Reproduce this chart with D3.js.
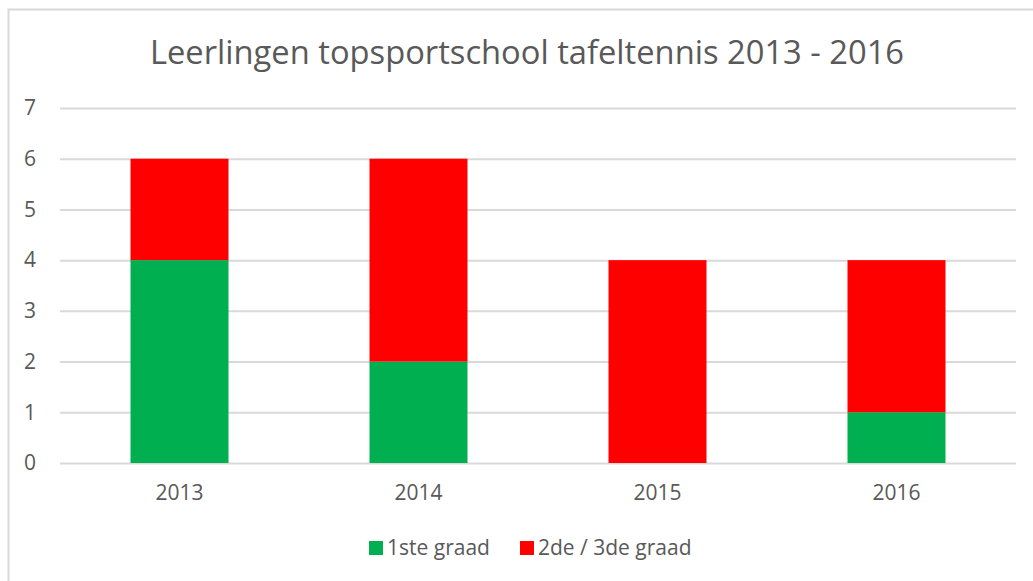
<!DOCTYPE html>
<html>
<head>
<meta charset="utf-8">
<script src="https://cdn.jsdelivr.net/npm/d3@7"></script>
<style>
  body { margin: 0; background: #fff; }
  text { font-family: "Open Sans", "Noto Sans", sans-serif; fill: #595959; }
</style>
</head>
<body>
<div id="chart"></div>
<script>
const years = ["2013", "2014", "2015", "2016"]
const eersteGraad = [4, 2, 0, 1]
const tweedeDerdeGraad = [2, 4, 4, 3]
const seriesNames = ["1ste graad", "2de / 3de graad"]
const seriesColors = ["#00b050", "#ff0000"]
const yTicks = [0, 1, 2, 3, 4, 5, 6, 7]

const W = 1033, H = 581
const margin = {top: 108, right: 17, bottom: 118, left: 60}
const width = W - margin.left - margin.right,
      height = H - margin.top - margin.bottom

const rows = years.map((y, i) => ({year: y, s0: eersteGraad[i], s1: tweedeDerdeGraad[i]}))
const stacked = d3.stack().keys(["s0", "s1"])(rows)

const svg = d3.select("#chart").append("svg")
  .attr("width", W)
  .attr("height", H)

// chart frame (only left/top visible in the crop)
svg.append("rect")
  .attr("x", 8.5).attr("y", 9.5)
  .attr("width", W + 20).attr("height", H + 20)
  .attr("fill", "none")
  .attr("stroke", "#d9d9d9")
  .attr("stroke-width", 2)

svg.append("text")
  .attr("x", 527)
  .attr("y", 64)
  .attr("text-anchor", "middle")
  .style("font-size", "32.7px")
  .text("Leerlingen topsportschool tafeltennis 2013 - 2016")

const g = svg.append("g")
  .attr("transform", "translate(" + margin.left + "," + margin.top + ")")

const x = d3.scaleBand()
  .domain(years)
  .range([0, width])
  .paddingInner(0.59)
  .paddingOuter(0.295)

const y = d3.scaleLinear()
  .domain([0, 7])
  .range([height, 0])

// gridlines
g.append("g")
  .selectAll("line")
  .data(yTicks)
  .enter().append("line")
  .attr("x1", 0).attr("x2", width)
  .attr("y1", d => y(d) + 0.5).attr("y2", d => y(d) + 0.5)
  .attr("stroke", "#d9d9d9")
  .attr("stroke-width", 2)

const yAxis = d3.axisLeft(y).tickValues(yTicks).tickFormat(d3.format("d")).tickSize(0).tickPadding(24)
g.append("g")
  .attr("class", "y axis")
  .call(yAxis)
  .call(a => a.select(".domain").remove())
  .selectAll("text")
  .style("font-size", "21px")
  .style("fill", "#595959")

g.selectAll(".layer")
  .data(stacked)
  .enter().append("g")
  .attr("class", "layer")
  .attr("fill", (d, i) => seriesColors[i])
  .selectAll("rect")
  .data(d => d)
  .enter().append("rect")
  .attr("x", d => x(d.data.year))
  .attr("width", x.bandwidth())
  .attr("y", d => y(d[1]))
  .attr("height", d => y(d[0]) - y(d[1]))

const xAxis = d3.axisBottom(x).tickSize(0).tickPadding(22)
g.append("g")
  .attr("class", "x axis")
  .attr("transform", "translate(0," + height + ")")
  .call(xAxis)
  .call(a => a.select(".domain").remove())
  .selectAll("text")
  .style("font-size", "21px")
  .style("fill", "#595959")

// legend
const legendPos = [369, 520]
const legend = svg.append("g").selectAll("g")
  .data(seriesNames)
  .enter().append("g")
  .attr("transform", (d, i) => "translate(" + legendPos[i] + ",541)")
legend.append("rect")
  .attr("width", 14).attr("height", 14)
  .attr("fill", (d, i) => seriesColors[i])
legend.append("text")
  .attr("x", 18).attr("y", 14)
  .style("font-size", "21px")
  .text(d => d)
</script>
</body>
</html>
